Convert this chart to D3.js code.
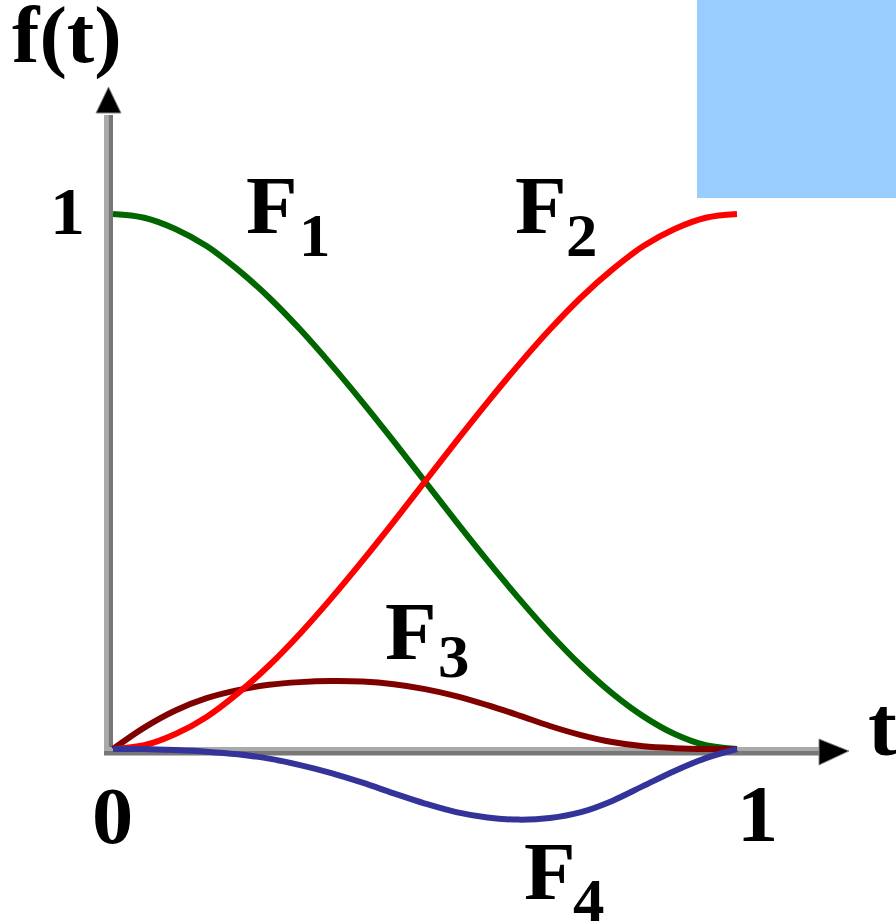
<!DOCTYPE html>
<html>
<head>
<meta charset="utf-8">
<script src="https://cdn.jsdelivr.net/npm/d3@7"></script>
<style>
  html, body { margin: 0; padding: 0; background: #fff; }
  svg { display: block; }
  text { font-family: "Times New Roman", "Liberation Serif", Tinos, "Nimbus Roman", serif; font-weight: 700; fill: #000; }
</style>
</head>
<body>
<div id="chart"></div>
<script>
// sample positions along t
const tValues = [0, 0.05, 0.1, 0.15, 0.2, 0.25, 0.3, 0.35, 0.4, 0.45, 0.5,
                 0.55, 0.6, 0.65, 0.7, 0.75, 0.8, 0.85, 0.9, 0.95, 1];
const f1Values = [1, 0.993, 0.972, 0.94, 0.896, 0.844, 0.784, 0.718, 0.648, 0.575, 0.5,
                  0.425, 0.352, 0.282, 0.216, 0.156, 0.104, 0.061, 0.028, 0.007, 0];
const f2Values = [0, 0.007, 0.028, 0.06, 0.104, 0.156, 0.216, 0.282, 0.352, 0.425, 0.5,
                  0.575, 0.648, 0.718, 0.784, 0.844, 0.896, 0.94, 0.972, 0.993, 1];
const f3Values = [0, 0.04, 0.072, 0.095, 0.11, 0.12, 0.125, 0.127, 0.126, 0.121, 0.112,
                  0.099, 0.082, 0.063, 0.043, 0.026, 0.013, 0.005, 0.0015, 0, 0];
const f4Values = [0, 0, -0.002, -0.005, -0.01, -0.018, -0.03, -0.045, -0.063, -0.083, -0.102,
                  -0.118, -0.128, -0.132, -0.129, -0.118, -0.097, -0.069, -0.041, -0.017, 0];
const seriesNames = ["F1", "F3", "F2", "F4"];
const seriesColors = ["#006600", "#800000", "#ff0000", "#333399"];
const xTickLabels = ["0", "1"];
const yTickLabels = ["1"];
const axisTitles = ["f(t)", "t"];

const width = 896;
const height = 921;

const svg = d3.select("#chart")
    .append("svg")
    .attr("width", width)
    .attr("height", height);

const x = d3.scaleLinear().domain([0, 1]).range([113, 737]);
const y = d3.scaleLinear().domain([0, 1]).range([749, 214]);

// blue block top right
svg.append("rect")
    .attr("x", 697).attr("y", 0)
    .attr("width", width - 697).attr("height", 198)
    .attr("fill", "#99ccff");

// axes: two-tone grey lines
const axisX0 = x(0) - 9;
svg.append("rect").attr("x", 104).attr("y", 115).attr("width", 4.5).attr("height", 640).attr("fill", "#aaaaaa");
svg.append("rect").attr("x", 108.5).attr("y", 115).attr("width", 4.5).attr("height", 640).attr("fill", "#777777");
svg.append("rect").attr("x", axisX0).attr("y", 747).attr("width", 820 - axisX0).attr("height", 4).attr("fill", "#aaaaaa");
svg.append("rect").attr("x", axisX0).attr("y", 751).attr("width", 820 - axisX0).attr("height", 4.5).attr("fill", "#777777");

// arrow heads
svg.append("path")
    .attr("d", "M108.5,87 L121,113 L96,113 Z")
    .attr("fill", "#000").attr("stroke", "#888").attr("stroke-width", 1);
svg.append("path")
    .attr("d", "M849,751 L819,739 L819,765 Z")
    .attr("fill", "#000").attr("stroke", "#888").attr("stroke-width", 1);

const seriesValues = { F1: f1Values, F2: f2Values, F3: f3Values, F4: f4Values };

const line = d3.line()
    .x(d => x(d.t))
    .y(d => y(d.v))
    .curve(d3.curveCatmullRom.alpha(0.5));

seriesNames.forEach((name, i) => {
    const pts = tValues.map((t, j) => ({ t: t, v: seriesValues[name][j] }));
    svg.append("path")
        .datum(pts)
        .attr("fill", "none")
        .attr("stroke", seriesColors[i])
        .attr("stroke-width", 6)
        .attr("stroke-linecap", "butt")
        .attr("d", line);
});

function label(str, px, py, size) {
    svg.append("text")
        .attr("transform", `translate(${px},${py}) scale(1.03,1)`)
        .style("font-size", size + "px")
        .text(str);
}

const curveLabels = [
    { name: "F", sub: "1", x: 246, y: 233, sx: 299, sy: 256 },
    { name: "F", sub: "2", x: 515, y: 233, sx: 566, sy: 256 },
    { name: "F", sub: "3", x: 385, y: 659, sx: 438, sy: 677 },
    { name: "F", sub: "4", x: 524, y: 899, sx: 573, sy: 921 }
];
curveLabels.forEach(d => {
    label(d.name, d.x, d.y, 82);
    label(d.sub, d.sx, d.sy, 61);
});

label(axisTitles[0], 12, 62, 80);
label(axisTitles[1], 868, 755, 84);
label(yTickLabels[0], 50, 234, 68);
label(xTickLabels[0], 92, 843, 80);
label(xTickLabels[1], 737, 841, 80);
</script>
</body>
</html>
